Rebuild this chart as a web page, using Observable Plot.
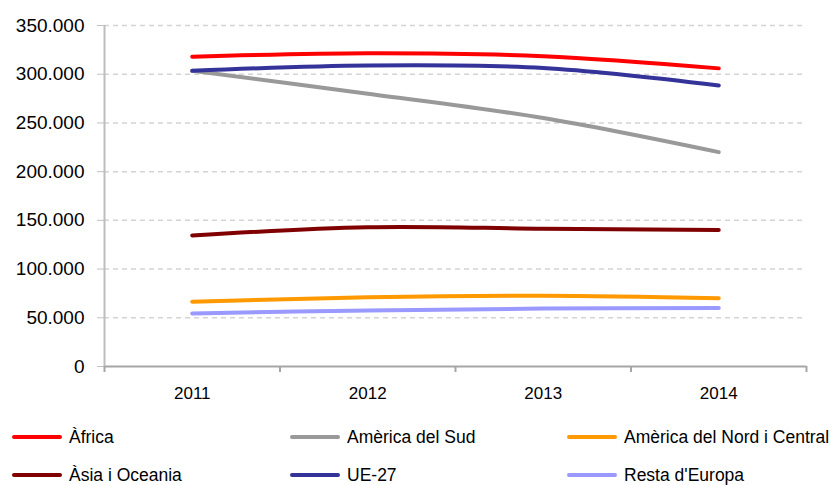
<!DOCTYPE html>
<html>
<head>
<meta charset="utf-8">
<script src="https://cdn.jsdelivr.net/npm/d3@7"></script>
<script src="https://cdn.jsdelivr.net/npm/@observablehq/plot@0.6"></script>
<style>
  body { margin: 0; background: #fff; font-family: "Liberation Sans", Arial, sans-serif; }
  #wrap { width: 831px; }
  .legend { position: relative; width: 831px; margin-top: 8px; }
  .row { display: flex; height: 38px; align-items: center; padding-left: 12px; }
  .item { display: flex; align-items: center; font-size: 17.5px; color: #000; white-space: nowrap; }
  .sw { width: 50px; height: 4px; border-radius: 2px; margin-right: 7px; }
</style>
</head>
<body>
<div id="wrap"></div>
<script>
const years = [2011, 2012, 2013, 2014];
const seriesNames = ["Àfrica", "Amèrica del Sud", "Amèrica del Nord i Central", "Àsia i Oceania", "UE-27", "Resta d'Europa"];
const africa = [318000, 321500, 318500, 306000];
const americaSud = [303500, 280000, 255000, 220000];
const americaNord = [66500, 71000, 72500, 70000];
const asia = [134500, 143000, 141500, 140000];
const ue27 = [303500, 309000, 306500, 288500];
const restaEuropa = [54500, 57500, 59500, 60000];
const colors = ["#ff0000", "#999999", "#ff9900", "#800000", "#333399", "#9999ff"];
const yTicks = [0, 50000, 100000, 150000, 200000, 250000, 300000, 350000];
const xBoundaries = [2010.5, 2011.5, 2012.5, 2013.5, 2014.5];
const legendColumnWidths = [278, 277, 264];

const valuesBySeries = [africa, americaSud, americaNord, asia, ue27, restaEuropa];
const data = [];
seriesNames.forEach((s, i) => years.forEach((y, j) => data.push({series: s, year: y, value: valuesBySeries[i][j]})));

const fmt = d => d3.format(",")(d).replace(/,/g, ".");

const chart = Plot.plot({
  width: 831,
  height: 410,
  marginLeft: 104,
  marginRight: 25,
  marginTop: 25,
  marginBottom: 44,
  style: { fontFamily: "'Liberation Sans', Arial, sans-serif", color: "#000", background: "#fff" },
  x: { domain: [2010.5, 2014.5] },
  y: { domain: [0, 350000] },
  color: { domain: seriesNames, range: colors },
  marks: [
    Plot.gridY(yTicks.filter(d => d > 0), { stroke: "#d4d4d4", strokeOpacity: 1, strokeWidth: 1.5, strokeDasharray: "5,4" }),
    Plot.axisY(yTicks, { tickFormat: fmt, tickSize: 7, stroke: "#c0c0c0", tickPadding: 13, fontSize: 19, label: null }),
    Plot.axisX(xBoundaries, { tickFormat: () => "", tickSize: 6, stroke: "#a6a6a6", strokeWidth: 2, label: null }),
    Plot.axisX(years, { tickFormat: d => String(d), tickSize: 0, tickPadding: 20, fontSize: 17, label: null }),
    Plot.ruleY([0], { stroke: "#a6a6a6", strokeWidth: 2 }),
    Plot.ruleX([2010.5], { y1: 0, y2: 350000, stroke: "#bdbdbd", strokeWidth: 2 }),
    Plot.line(data, { x: "year", y: "value", z: "series", stroke: "series", strokeWidth: 4, curve: "catmull-rom", strokeLinecap: "round" })
  ]
});
document.getElementById("wrap").appendChild(chart);

const legend = document.createElement("div");
legend.className = "legend";
for (let r = 0; r < 2; r++) {
  const row = document.createElement("div");
  row.className = "row";
  for (let c = 0; c < 3; c++) {
    const i = r * 3 + c;
    const item = document.createElement("div");
    item.className = "item";
    item.style.width = legendColumnWidths[c] + "px";
    const sw = document.createElement("span");
    sw.className = "sw";
    sw.style.background = colors[i];
    const t = document.createElement("span");
    t.textContent = seriesNames[i];
    item.appendChild(sw);
    item.appendChild(t);
    row.appendChild(item);
  }
  legend.appendChild(row);
}
document.getElementById("wrap").appendChild(legend);
</script>
</body>
</html>
